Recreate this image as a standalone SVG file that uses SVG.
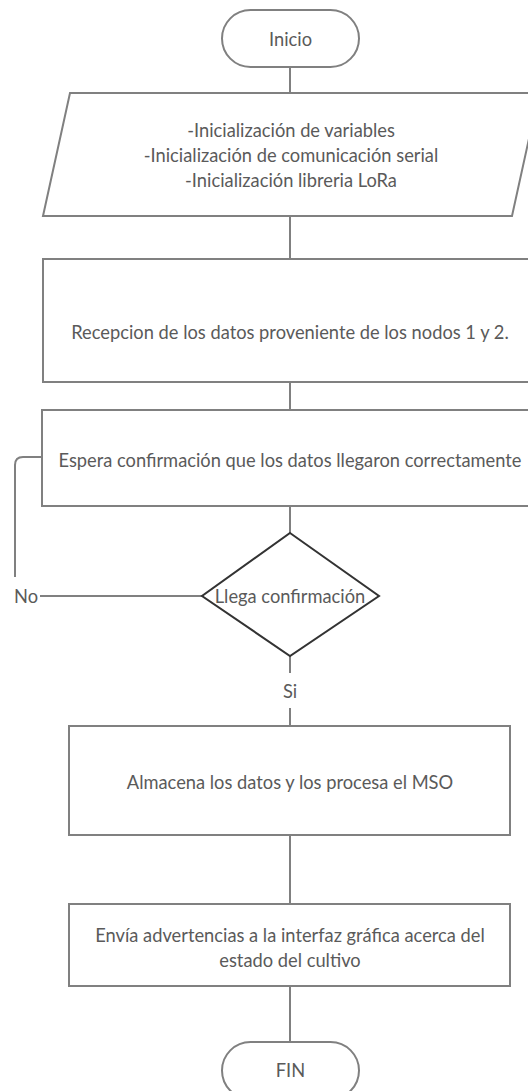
<svg xmlns="http://www.w3.org/2000/svg" width="528" height="1091" viewBox="0 0 528 1091">
<style>
.s{fill:#fff;stroke:#808080;stroke-width:2}
.d{fill:#fff;stroke:#333;stroke-width:2}
.c{fill:none;stroke:#808080;stroke-width:2}
text{font-family:Lato,"Liberation Sans",sans-serif;font-size:18.3px;fill:#5a5a5a;text-anchor:middle;dominant-baseline:central}
</style>
<rect width="528" height="1091" fill="#fff"/>
<g id="connectors">
<line class="c" x1="290" y1="67" x2="290" y2="93"/>
<line class="c" x1="290" y1="216" x2="290" y2="259"/>
<line class="c" x1="290" y1="382" x2="290" y2="410"/>
<line class="c" x1="290" y1="506" x2="290" y2="533"/>
<line class="c" x1="290" y1="656" x2="290" y2="673"/>
<line class="c" x1="290" y1="708" x2="290" y2="726"/>
<line class="c" x1="290" y1="835" x2="290" y2="904"/>
<line class="c" x1="290" y1="986" x2="290" y2="1042"/>
<line class="c" x1="202" y1="596" x2="40" y2="596"/>
<path class="c" d="M15,577 V465 Q15,457 23,457 H42"/>
<text x="26" y="596">No</text>
<text x="290" y="691">Si</text>
</g>
<g id="inicio">
<rect class="s" x="222" y="10" width="137" height="57" rx="28.5"/>
<text x="290.5" y="39">Inicio</text>
</g>
<g id="init">
<polygon class="s" points="70,93 539,93 512,216 43,216"/>
<text x="291" y="130">-Inicialización de variables</text>
<text x="291" y="155">-Inicialización de comunicación serial</text>
<text x="291" y="180">-Inicialización libreria LoRa</text>
</g>
<g id="recepcion">
<rect class="s" x="43" y="259" width="494" height="123"/>
<text x="290" y="332">Recepcion de los datos proveniente de los nodos 1 y 2.</text>
</g>
<g id="espera">
<rect class="s" x="42" y="410" width="496" height="96"/>
<text x="290" y="460">Espera confirmación que los datos llegaron correctamente</text>
</g>
<g id="decision">
<polygon class="d" points="290,533 379,596 290,656 202,596"/>
<text x="290" y="596">Llega confirmación</text>
</g>
<g id="almacena">
<rect class="s" x="69" y="726" width="441" height="109"/>
<text x="290" y="782">Almacena los datos y los procesa el MSO</text>
</g>
<g id="envia">
<rect class="s" x="69" y="904" width="441" height="82"/>
<text x="290" y="935">Envía advertencias a la interfaz gráfica acerca del</text>
<text x="290" y="960">estado del cultivo</text>
</g>
<g id="fin">
<rect class="s" x="222" y="1042" width="137" height="57" rx="28.5"/>
<text x="290.5" y="1070">FIN</text>
</g>
</svg>
